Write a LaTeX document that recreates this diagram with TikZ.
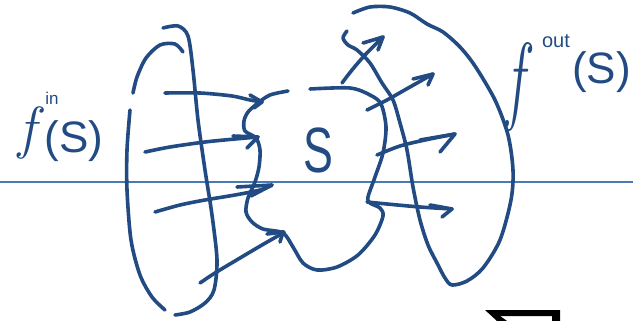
\documentclass[tikz,border=0pt]{standalone}
\usepackage{fontspec}
\setsansfont{Liberation Sans}
\definecolor{inkc}{RGB}{33,75,130}
\definecolor{rulec}{RGB}{74,122,181}
\tikzset{
  ink/.style={draw=inkc, line width=3.6pt, line cap=round, line join=round},
  lbl/.style={text=inkc, inner sep=0pt, font=\sffamily},
}
\begin{document}
\begin{tikzpicture}[x=1pt,y=-1pt]
\useasboundingbox (0,0) rectangle (633,321);
% horizontal rule
\draw[rulec, line width=2pt] (0,182) -- (633,182);
% left ellipse
\draw[ink] plot[smooth] coordinates {(183,52) (175,44) (160,45) (146,58) (137,77) (133,93)};
\draw[ink] plot[smooth] coordinates {(130,110) (127,150) (127,190) (131,240) (140,275) (152,297) (165,310)};
\draw[ink] plot[smooth] coordinates {(163,28) (178,26) (188,36) (193,70) (198,120) (205,170) (212,215) (217,260) (214,290) (205,303) (190,312) (175,315)};
% left arrows
\draw[ink] plot[smooth] coordinates {(165,93) (200,93) (232,96) (250,100) (262,102)};
\draw[ink] (250,95) -- (262,102) -- (254,108);
\draw[ink] plot[smooth] coordinates {(145,152) (170,147) (205,142) (235,139) (258,137)};
\draw[ink] (233,136) -- (258,137) -- (247,148);
\draw[ink] plot[smooth] coordinates {(155,212) (180,205) (205,200) (235,195) (260,190) (272,185)};
\draw[ink] (237,187) -- (272,185) -- (251,196);
\draw[ink] plot[smooth] coordinates {(200,283) (215,273) (240,258) (262,245) (283,233)};
\draw[ink] (267,234) -- (283,232) -- (280,242);
\fill[inkc] (283,233) circle (3pt);
% S blob
\draw[ink] plot[smooth] coordinates {(288,91) (270,95) (258,103) (248,112) (244,121) (245,131) (256,138) (260,150) (259,167) (255,182) (248,198) (246,212) (252,222) (263,229) (283,233) (293,247) (303,263) (317,270) (337,267) (358,255) (375,235) (383,216) (380,208) (370,203) (368,197) (375,177) (383,153) (386,127) (381,104) (370,95) (350,88) (310,89)};
% right blob
\draw[ink] plot[smooth] coordinates {(347,31) (343,38) (348,45) (357,50) (370,63) (382,83) (393,100) (400,123) (407,150) (413,187) (420,220) (428,245) (437,263) (445,278) (452,285) (467,281) (483,268) (500,240) (511,200) (513,170) (508,135) (495,100) (475,66) (460,47) (443,32) (427,24) (410,13) (390,7) (370,7) (353,13)};
% right arrows
\draw[ink] plot[smooth] coordinates {(342,83) (352,70) (365,55) (383,37)};
\draw[ink] (363,43) -- (383,37) -- (378,50);
\draw[ink] plot[smooth] coordinates {(367,110) (387,100) (410,87) (433,74)};
\draw[ink] (413,79) -- (433,74) -- (428,85);
\draw[ink] plot[smooth] coordinates {(377,155) (400,146) (425,140) (455,134)};
\draw[ink] (420,140) -- (455,134) -- (440,152);
\draw[ink] plot[smooth] coordinates {(367,202) (387,204) (420,207) (452,209)};
\draw[ink] (430,205) -- (452,209) -- (442,217);
% labels
\node[lbl] (fin) at (27,133) {\fontsize{58}{58}\selectfont\rmfamily\itshape f};
\node[lbl] (finsup) at (52,98) {\fontsize{17}{17}\selectfont in};
\node[lbl] (finS) at (74,141) {\fontsize{44}{44}\selectfont (S)};
\node[lbl] (fout) at (515,87) {\scalebox{0.6}[1]{\fontsize{98}{98}\selectfont\rmfamily\itshape f}};
\node[lbl] (foutsup) at (556,41) {\fontsize{20}{20}\selectfont out};
\node[lbl, anchor=west] (foutS) at (572,72) {\fontsize{44}{44}\selectfont (S)};
\node[lbl] (S) at (318,150) {\scalebox{0.7}[1]{\fontsize{64}{64}\selectfont S}};
% black sigma fragment
\fill[black] (485,310) -- (560,310) -- (560,321) -- (552,321) -- (552,316) -- (500,316) -- (507,321) -- (497,321) -- cycle;
\end{tikzpicture}
\end{document}
